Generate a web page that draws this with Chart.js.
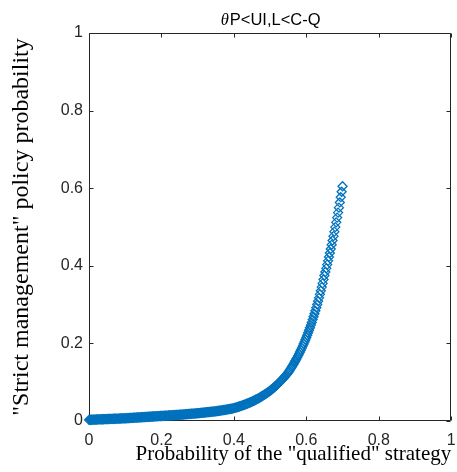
<!DOCTYPE html>
<html>
<head>
<meta charset="utf-8">
<script src="https://cdn.jsdelivr.net/npm/chart.js@4.4.1/dist/chart.umd.min.js"></script>
<style>
  html, body { margin: 0; padding: 0; background: #fff; }
  #wrap { width: 457px; height: 472px; }
</style>
</head>
<body>
<div id="wrap"><canvas id="curve" width="457" height="472"></canvas></div>
<script>
const titleSymbol = 'θ';
const titleRest = 'P<UI,L<C-Q';
const xLabel = 'Probability of the "qualified" strategy';
const yLabel = '"Strict management" policy probability';
const xTicks = [0, 0.2, 0.4, 0.6, 0.8, 1];
const yTicks = [0, 0.2, 0.4, 0.6, 0.8, 1];

// probability of the "qualified" strategy
const probQualified = [
  0, 0.0025, 0.005, 0.0075, 0.01, 0.0125, 0.015, 0.0175, 0.02, 0.0225, 0.025, 0.0275, 0.03, 0.0325, 0.035, 0.0375, 0.04, 0.0425, 0.045, 0.0475,
  0.05, 0.0525, 0.055, 0.0575, 0.06, 0.0625, 0.065, 0.0675, 0.07, 0.0725, 0.075, 0.0775, 0.08, 0.0825, 0.085, 0.0875, 0.09, 0.0925, 0.095, 0.0975,
  0.1, 0.1025, 0.105, 0.1075, 0.11, 0.1125, 0.115, 0.1175, 0.12, 0.1225, 0.125, 0.1275, 0.13, 0.1325, 0.135, 0.1375, 0.14, 0.1425, 0.145, 0.1475,
  0.15, 0.1525, 0.155, 0.1575, 0.16, 0.1625, 0.165, 0.1675, 0.17, 0.1725, 0.175, 0.1775, 0.18, 0.1825, 0.185, 0.1875, 0.19, 0.1925, 0.195, 0.1975,
  0.2, 0.2025, 0.205, 0.2075, 0.21, 0.2125, 0.215, 0.2175, 0.22, 0.2225, 0.225, 0.2275, 0.23, 0.2325, 0.235, 0.2375, 0.24, 0.2425, 0.245, 0.2475,
  0.25, 0.2525, 0.255, 0.2575, 0.26, 0.2625, 0.265, 0.2675, 0.27, 0.2725, 0.275, 0.2775, 0.28, 0.2825, 0.285, 0.2875, 0.29, 0.2925, 0.295, 0.2975,
  0.3, 0.3025, 0.305, 0.3075, 0.31, 0.3125, 0.315, 0.3175, 0.32, 0.3225, 0.325, 0.3275, 0.33, 0.3325, 0.335, 0.3375, 0.34, 0.3425, 0.345, 0.3475,
  0.35, 0.3525, 0.355, 0.3575, 0.36, 0.3625, 0.365, 0.3675, 0.37, 0.3725, 0.375, 0.3775, 0.38, 0.3825, 0.385, 0.3875, 0.39, 0.3925, 0.395, 0.3975,
  0.4, 0.4025, 0.405, 0.4075, 0.41, 0.4125, 0.415, 0.4175, 0.42, 0.4225, 0.425, 0.4275, 0.43, 0.4325, 0.435, 0.4375, 0.44, 0.4425, 0.445, 0.4475,
  0.45, 0.4525, 0.455, 0.4575, 0.46, 0.4625, 0.465, 0.4675, 0.47, 0.4725, 0.475, 0.4775, 0.48, 0.4825, 0.485, 0.4875, 0.49, 0.4925, 0.495, 0.4975,
  0.5, 0.5025, 0.505, 0.5075, 0.51, 0.5125, 0.515, 0.5175, 0.52, 0.5225, 0.525, 0.5275, 0.53, 0.5325, 0.535, 0.5375, 0.54, 0.5425, 0.545, 0.5475,
  0.55, 0.5525, 0.555, 0.5575, 0.56, 0.5625, 0.565, 0.5675, 0.57, 0.5725, 0.575, 0.5775, 0.58, 0.5825, 0.585, 0.5875, 0.59, 0.5925, 0.595, 0.5975,
  0.6, 0.6025, 0.605, 0.6075, 0.61, 0.6125, 0.615, 0.6175, 0.62, 0.6225, 0.625, 0.6275, 0.63, 0.6325, 0.635, 0.6375, 0.64, 0.6425, 0.645, 0.6475,
  0.65, 0.6525, 0.655, 0.6575, 0.66, 0.6625, 0.665, 0.6675, 0.67, 0.6725, 0.675, 0.6775, 0.68, 0.6825, 0.685, 0.6875, 0.69, 0.6925, 0.695, 0.6975,
  0.7
];

// "strict management" policy probability
const probStrict = [
  0.0030, 0.0031, 0.0032, 0.0033, 0.0034, 0.0035, 0.0036, 0.0037, 0.0038, 0.0039, 0.0040, 0.0041, 0.0042, 0.0043, 0.0044, 0.0045, 0.0046, 0.0047, 0.0048, 0.0049,
  0.0050, 0.0051, 0.0052, 0.0053, 0.0054, 0.0055, 0.0056, 0.0057, 0.0058, 0.0059, 0.0060, 0.0061, 0.0062, 0.0063, 0.0064, 0.0065, 0.0066, 0.0067, 0.0068, 0.0069,
  0.00700, 0.00715, 0.00730, 0.00745, 0.00760, 0.00775, 0.00790, 0.00805, 0.00820, 0.00835, 0.00850, 0.00865, 0.00880, 0.00895, 0.00910, 0.00925, 0.00940, 0.00955, 0.00970, 0.00985,
  0.01000, 0.01015, 0.01030, 0.01045, 0.01060, 0.01075, 0.01090, 0.01105, 0.01120, 0.01135, 0.01150, 0.01165, 0.01180, 0.01195, 0.01210, 0.01225, 0.01240, 0.01255, 0.01270, 0.01285,
  0.01300, 0.01315, 0.01330, 0.01345, 0.01360, 0.01375, 0.01390, 0.01405, 0.01420, 0.01435, 0.01450, 0.01465, 0.01480, 0.01495, 0.01510, 0.01525, 0.01540, 0.01555, 0.01570, 0.01585,
  0.0160, 0.0162, 0.0164, 0.0166, 0.0168, 0.0170, 0.0172, 0.0174, 0.0176, 0.0178, 0.0180, 0.0182, 0.0184, 0.0186, 0.0188, 0.0190, 0.0192, 0.0194, 0.0196, 0.0198,
  0.02000, 0.02025, 0.02050, 0.02075, 0.02100, 0.02125, 0.02150, 0.02175, 0.02200, 0.02225, 0.02250, 0.02275, 0.02300, 0.02325, 0.02350, 0.02375, 0.02400, 0.02425, 0.02450, 0.02475,
  0.0250, 0.02535, 0.0257, 0.02605, 0.0264, 0.0268, 0.0272, 0.02755, 0.0279, 0.0283, 0.0287, 0.0291, 0.0295, 0.02995, 0.0304, 0.0308, 0.0312, 0.03165, 0.0321, 0.03255,
  0.0330, 0.0337, 0.0344, 0.03515, 0.0359, 0.03665, 0.0374, 0.03815, 0.0389, 0.03975, 0.0406, 0.04145, 0.0423, 0.0432, 0.0441, 0.04505, 0.0460, 0.0470, 0.0480, 0.0490,
  0.0500, 0.05115, 0.0523, 0.0535, 0.0547, 0.0559, 0.0571, 0.0584, 0.0597, 0.06105, 0.0624, 0.06385, 0.0653, 0.0668, 0.0683, 0.06985, 0.0714, 0.0730, 0.0746, 0.0763,
  0.0780, 0.0799, 0.0818, 0.08375, 0.0857, 0.08775, 0.0898, 0.0920, 0.0942, 0.09645, 0.0987, 0.1011, 0.1035, 0.1060, 0.1085, 0.1111, 0.1137, 0.11645, 0.1192, 0.1221,
  0.1250, 0.1285, 0.1320, 0.13565, 0.1393, 0.1432, 0.1471, 0.1512, 0.1553, 0.15965, 0.1640, 0.16855, 0.1731, 0.17795, 0.1828, 0.1879, 0.1930, 0.19835, 0.2037, 0.20935,
  0.2150, 0.22115, 0.2273, 0.2338, 0.2403, 0.2472, 0.2541, 0.26135, 0.2686, 0.2763, 0.2840, 0.2921, 0.3002, 0.3088, 0.3174, 0.32645, 0.3355, 0.3451, 0.3547, 0.36485,
  0.3750, 0.3842, 0.3934, 0.40305, 0.4127, 0.4228, 0.4329, 0.4435, 0.4541, 0.46525, 0.4764, 0.48805, 0.4997, 0.51195, 0.5242, 0.53705, 0.5499, 0.56335, 0.5768, 0.5909,
  0.6050
];

const axisColor = '#262626';
const lineBlue = '#0072BD';

// box + inward ticks, like matlab axes
const boxPlugin = {
  id: 'matlabBox',
  beforeDatasetsDraw(chart) {
    const ctx = chart.ctx;
    const a = chart.chartArea;
    const xs = chart.scales.x;
    const ys = chart.scales.y;
    const L = Math.round(a.left) + 0.5, R = Math.round(a.right) - 0.5;
    const T = Math.round(a.top) + 0.5, B = Math.round(a.bottom) - 0.5;
    ctx.save();
    ctx.strokeStyle = axisColor;
    ctx.lineWidth = 1;
    ctx.beginPath();
    ctx.rect(L, T, R - L, B - T);
    xTicks.forEach(function(v) {
      const px = Math.round(xs.getPixelForValue(v)) + 0.5;
      ctx.moveTo(px, B); ctx.lineTo(px, B - 4);
      ctx.moveTo(px, T); ctx.lineTo(px, T + 4);
    });
    yTicks.forEach(function(v) {
      const py = Math.round(ys.getPixelForValue(v)) + 0.5;
      ctx.moveTo(L, py); ctx.lineTo(L + 4, py);
      ctx.moveTo(R, py); ctx.lineTo(R - 4, py);
    });
    ctx.stroke();
    ctx.restore();
  },
  afterDraw(chart) {
    // title: italic theta then the rest in sans
    const ctx = chart.ctx;
    const a = chart.chartArea;
    ctx.save();
    ctx.fillStyle = '#000';
    ctx.textBaseline = 'alphabetic';
    const symFont = 'italic 16.5px "Liberation Serif"';
    const restFont = '16.5px "Liberation Sans"';
    ctx.font = symFont;
    const w1 = ctx.measureText(titleSymbol).width;
    ctx.font = restFont;
    const w2 = ctx.measureText(titleRest).width;
    const x = (a.left + a.right) / 2 - (w1 + w2) / 2;
    const y = 25;
    ctx.font = symFont;
    ctx.fillText(titleSymbol, x, y);
    ctx.font = restFont;
    ctx.fillText(titleRest, x + w1 + 1, y);
    ctx.restore();
  }
};

const points = probQualified.map(function(x, i) {
  return { x: x, y: probStrict[i] };
});

const ctx = document.getElementById('curve').getContext('2d');
new Chart(ctx, {
  type: 'scatter',
  data: {
    datasets: [{
      data: points,
      showLine: false,
      pointStyle: 'rectRot',
      pointRadius: 4.5,
      pointBorderWidth: 1.3,
      pointBackgroundColor: 'rgba(0,0,0,0)',
      pointBorderColor: lineBlue,
      clip: false
    }]
  },
  options: {
    responsive: false,
    animation: false,
    layout: { padding: { top: 33, left: 0, right: 0, bottom: 0 } },
    plugins: {
      legend: { display: false },
      tooltip: { enabled: false },
      title: { display: false }
    },
    scales: {
      x: {
        type: 'linear',
        min: 0,
        max: 1,
        afterBuildTicks: function(scale) {
          scale.ticks = xTicks.map(function(v) { return { value: v }; });
        },
        afterFit: function(scale) {
          scale.height = 51;
          scale.paddingRight = 4;
        },
        grid: { display: false, drawTicks: false },
        border: { display: false },
        ticks: {
          padding: 10,
          color: axisColor,
          font: { family: '"Liberation Sans"', size: 16 },
          maxRotation: 0,
          callback: function(v) { return String(v); }
        },
        title: {
          display: true,
          text: xLabel,
          align: 'end',
          color: '#000',
          padding: { top: 5, bottom: 5 },
          font: { family: '"Liberation Serif"', size: 21 }
        }
      },
      y: {
        type: 'linear',
        min: 0,
        max: 1,
        afterBuildTicks: function(scale) {
          scale.ticks = yTicks.map(function(v) { return { value: v }; });
        },
        afterFit: function(scale) { scale.width = 89; },
        grid: { display: false, drawTicks: false },
        border: { display: false },
        ticks: {
          padding: 6,
          color: axisColor,
          font: { family: '"Liberation Sans"', size: 16 },
          callback: function(v) { return String(v); }
        },
        title: {
          display: true,
          text: yLabel,
          color: '#000',
          padding: { top: 7, bottom: 7 },
          font: { family: '"Liberation Serif"', size: 24 }
        }
      }
    }
  },
  plugins: [boxPlugin]
});
</script>
</body>
</html>
